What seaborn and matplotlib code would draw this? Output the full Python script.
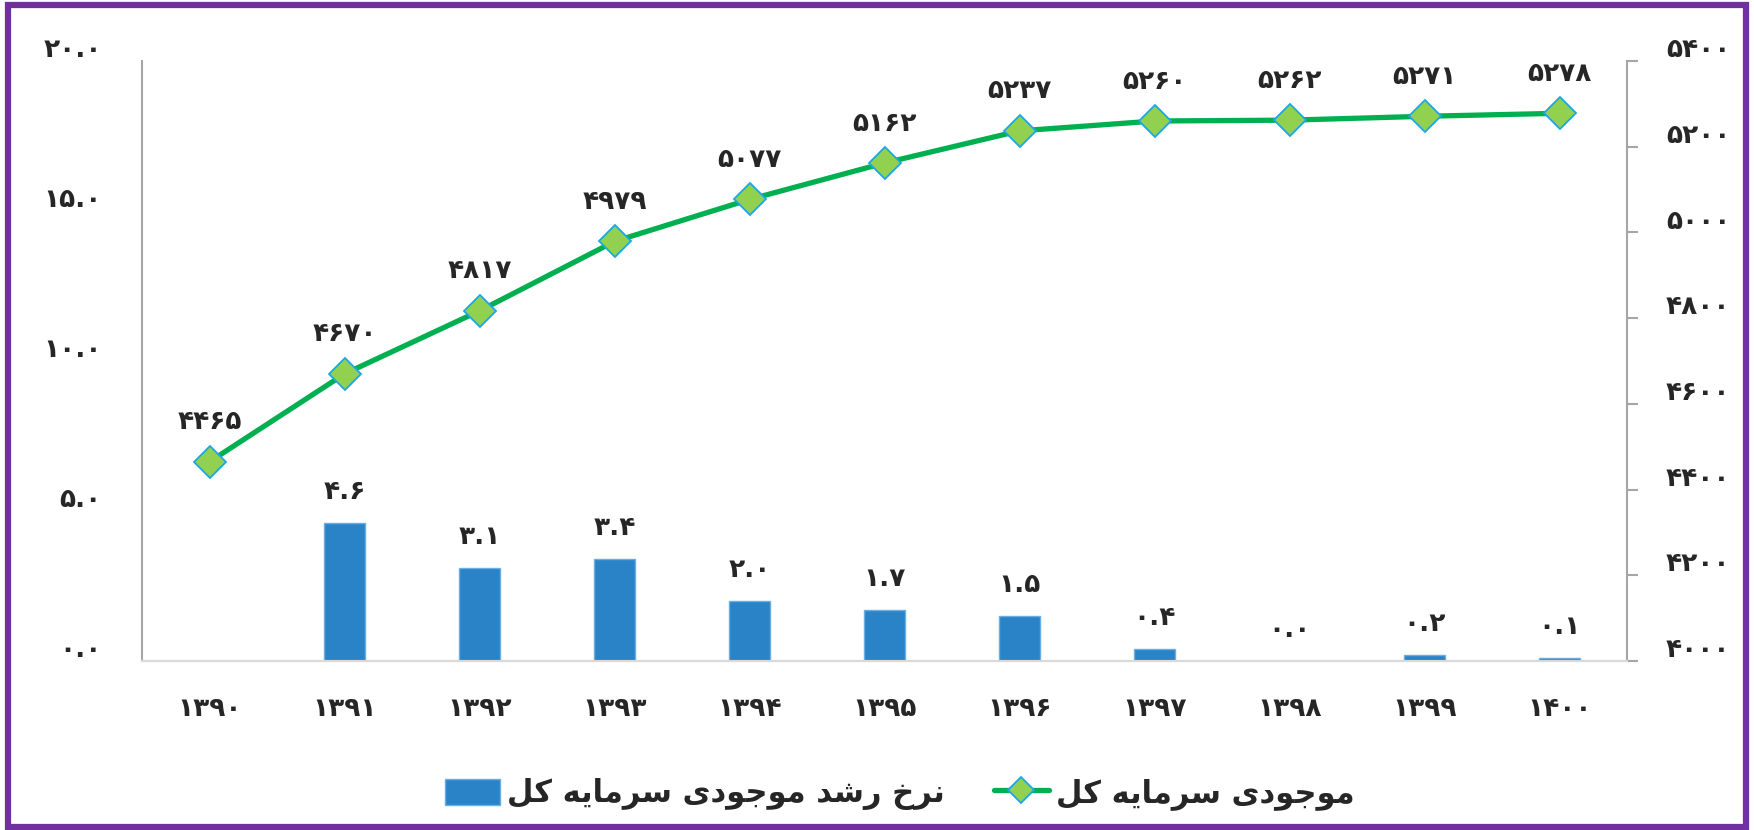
import numpy as np
import seaborn as sns
import matplotlib.pyplot as plt
from matplotlib.patches import Rectangle
from matplotlib.ticker import FuncFormatter, FixedLocator
from matplotlib.transforms import ScaledTranslation

# Data
years = ['1390', '1391', '1392', '1393', '1394', '1395', '1396', '1397', '1398', '1399', '1400']
capital_stock = [4465, 4670, 4817, 4979, 5077, 5162, 5237, 5260, 5262, 5271, 5278]
growth_rate = [np.nan, 4.6, 3.1, 3.4, 2.0, 1.7, 1.5, 0.4, 0.0, 0.2, 0.1]

stock_label = 'موجودی سرمایه کل'
growth_label = 'نرخ رشد موجودی سرمایه کل'

# matplotlib has no Arabic shaping, so pick presentation forms by hand
FORMS = {
    'ا': ('\uFE8D', '\uFE8E'),
    'د': ('\uFEA9', '\uFEAA'),
    'ر': ('\uFEAD', '\uFEAE'),
    'و': ('\uFEED', '\uFEEE'),
    'ج': ('\uFE9D', '\uFE9E', '\uFE9F', '\uFEA0'),
    'خ': ('\uFEA5', '\uFEA6', '\uFEA7', '\uFEA8'),
    'س': ('\uFEB1', '\uFEB2', '\uFEB3', '\uFEB4'),
    'ش': ('\uFEB5', '\uFEB6', '\uFEB7', '\uFEB8'),
    'ل': ('\uFEDD', '\uFEDE', '\uFEDF', '\uFEE0'),
    'م': ('\uFEE1', '\uFEE2', '\uFEE3', '\uFEE4'),
    'ن': ('\uFEE5', '\uFEE6', '\uFEE7', '\uFEE8'),
    'ه': ('\uFEE9', '\uFEEA', '\uFEEB', '\uFEEC'),
    'ی': ('\uFBFC', '\uFBFD', '\uFBFE', '\uFBFF'),
    'ک': ('\uFB8E', '\uFB8F', '\uFB90', '\uFB91'),
}


def shape(text):
    out = []
    for i, ch in enumerate(text):
        if ch not in FORMS:
            out.append(ch)
            continue
        f = FORMS[ch]
        prev = text[i - 1] if i > 0 else ''
        nxt = text[i + 1] if i + 1 < len(text) else ''
        join_prev = prev in FORMS and len(FORMS[prev]) == 4
        join_next = len(f) == 4 and nxt in FORMS
        if join_prev and join_next:
            out.append(f[3])
        elif join_prev:
            out.append(f[1])
        elif join_next:
            out.append(f[2])
        else:
            out.append(f[0])
    return ''.join(reversed(out))


FA = str.maketrans('0123456789', '۰۱۲۳۴۵۶۷۸۹')


def fa(s):
    return str(s).translate(FA)


sns.set_style('white')
plt.rcParams['font.family'] = ['DejaVu Sans']
plt.rcParams['font.weight'] = 'bold'

fig = plt.figure(figsize=(17.54, 8.30), dpi=100)
ax = fig.add_axes([0.081, 0.2036, 0.8466, 0.7229])
ax2 = ax.twinx()

sns.barplot(x=[fa(y) for y in years], y=growth_rate, ax=ax, color='#2A83C7',
            width=0.31, saturation=1, edgecolor='#6BAEE3', linewidth=1,
            label=shape(growth_label))
sns.lineplot(x=np.arange(len(years)), y=capital_stock, ax=ax2, color='#00B050',
             linewidth=3.8, marker='D', markersize=16, markerfacecolor='#92D050',
             markeredgecolor='#1AA7E8', markeredgewidth=1.3,
             label=shape(stock_label), legend=False)

ax.set_xlim(-0.5, 10.5)
ax.set_ylim(0, 20)
ax2.set_ylim(4000, 5400)
ax.yaxis.set_major_locator(FixedLocator([0, 5, 10, 15, 20]))
ax2.yaxis.set_major_locator(FixedLocator(range(4000, 5401, 200)))
ax.yaxis.set_major_formatter(FuncFormatter(lambda v, p: fa(f'{v:.1f}')))
ax2.yaxis.set_major_formatter(FuncFormatter(lambda v, p: fa(f'{v:.0f}')))

ax.tick_params(axis='y', length=0, pad=29, labelsize=19)
ax.tick_params(axis='x', length=0, pad=25, labelsize=19)
ax2.tick_params(axis='y', length=8, width=1.5, color='#A6A6A6', pad=20, labelsize=19)
ax.set_xlabel('')
ax.set_ylabel('')

for a in (ax, ax2):
    a.grid(False)
    a.spines['top'].set_visible(False)
    a.spines['left'].set_color('#A6A6A6')
    a.spines['right'].set_color('#A6A6A6')
    a.spines['left'].set_linewidth(1.5)
    a.spines['right'].set_linewidth(1.5)
    a.spines['bottom'].set_color('#D9D9D9')
    a.spines['bottom'].set_linewidth(1.5)
ax2.spines['left'].set_visible(False)
ax.spines['right'].set_visible(False)

# the labels sit a little above their ticks in the original
shift = ScaledTranslation(0, 10 / 72, fig.dpi_scale_trans)
for lab in ax.get_yticklabels() + ax2.get_yticklabels():
    lab.set_transform(lab.get_transform() + shift)

# data labels
for i, v in enumerate(growth_rate):
    if not np.isnan(v):
        ax.annotate(fa(f'{v:.1f}'), (i, v), xytext=(0, 13), textcoords='offset points',
                    ha='center', va='bottom', fontsize=19)
for i, v in enumerate(capital_stock):
    ax2.annotate(fa(v), (i, v), xytext=(0, 19), textcoords='offset points',
                 ha='center', va='bottom', fontsize=19)

handles = ax.get_legend_handles_labels()[0] + ax2.get_legend_handles_labels()[0]
labels = ax.get_legend_handles_labels()[1] + ax2.get_legend_handles_labels()[1]
if ax.get_legend() is not None:
    ax.get_legend().remove()
fig.legend(handles, labels, loc='center', bbox_to_anchor=(0.513, 0.043), ncol=2,
           frameon=False, fontsize=22, handlelength=1.8, handleheight=0.95,
           handletextpad=0.25, columnspacing=1.6, markerscale=0.8)

fig.patches.append(Rectangle((0.0045, 0.004), 0.991, 0.99, transform=fig.transFigure,
                             fill=False, edgecolor='#7030A0', linewidth=4.5))

fig.savefig('out.png', dpi=100)
